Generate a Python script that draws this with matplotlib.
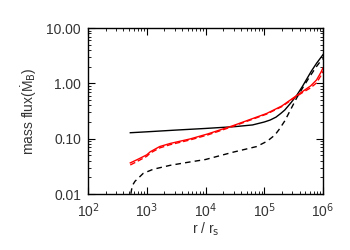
import numpy as np
import matplotlib
matplotlib.use("Agg")
import matplotlib.pyplot as plt

# values: log10(r/r_s) and mass flux
logr_black_solid = [2.72, 3.0, 3.5, 4.0, 4.5, 4.8, 5.0, 5.1, 5.2, 5.28, 5.35, 5.45, 5.55, 5.65, 5.72, 5.8, 5.89, 5.95, 6.0]
m_black_solid = [0.128, 0.133, 0.143, 0.153, 0.165, 0.177, 0.2, 0.217, 0.245, 0.285, 0.33, 0.44, 0.6, 0.88, 1.18, 1.65, 2.3, 2.8, 3.3]

logr_black_dash = [2.73, 2.74, 2.76, 2.8, 2.86, 2.94, 3.11, 3.4, 3.74, 4.0, 4.47, 4.87, 5.05, 5.18, 5.26, 5.35, 5.47, 5.55, 5.66, 5.78, 5.88, 5.95, 6.0]
m_black_dash = [0.0101, 0.0118, 0.0145, 0.017, 0.0195, 0.0236, 0.028, 0.033, 0.038, 0.042, 0.057, 0.072, 0.09, 0.116, 0.15, 0.21, 0.37, 0.54, 0.85, 1.35, 1.95, 2.45, 2.8]

logr_red_solid = [2.72, 2.8, 2.88, 3.0, 3.06, 3.22, 3.4, 3.74, 4.04, 4.47, 5.04, 5.3, 5.55, 5.65, 5.79, 5.89, 5.96, 6.0]
m_red_solid = [0.0365, 0.04, 0.044, 0.051, 0.058, 0.072, 0.082, 0.099, 0.122, 0.172, 0.285, 0.39, 0.6, 0.71, 0.9, 1.15, 1.55, 1.9]

logr_red_dash = [2.72, 2.8, 2.88, 3.0, 3.06, 3.22, 3.4, 3.74, 4.04, 4.47, 5.04, 5.3, 5.55, 5.65, 5.79, 5.89, 5.96, 6.0]
m_red_dash = [0.0335, 0.037, 0.041, 0.048, 0.055, 0.068, 0.078, 0.095, 0.117, 0.167, 0.278, 0.38, 0.58, 0.68, 0.83, 1.02, 1.35, 1.65]

yticks = [0.01, 0.1, 1.0, 10.0]
ytick_labels = ["0.01", "0.10", "1.00", "10.00"]
xticks = [1e2, 1e3, 1e4, 1e5, 1e6]
xtick_labels = [r"10$^{2}$", r"10$^{3}$", r"10$^{4}$", r"10$^{5}$", r"10$^{6}$"]

plt.rcParams['font.family'] = ['Liberation Sans', 'DejaVu Sans']
plt.rcParams['mathtext.fontset'] = 'dejavusans'

fig = plt.figure(figsize=(3.5, 2.5), dpi=100)
ax = fig.add_axes([88/350, 1-194/250, (323-88)/350, (194-28)/250])

def r(logs):
    return 10.0 ** np.asarray(logs)

ax.plot(r(logr_black_solid), m_black_solid, color='black', lw=1.0)
ax.plot(r(logr_black_dash), m_black_dash, color='black', lw=1.0, ls=(0, (4, 3)))
ax.plot(r(logr_red_solid), m_red_solid, color='red', lw=1.0)
ax.plot(r(logr_red_dash), m_red_dash, color='red', lw=1.0, ls=(0, (4, 2)))

ax.set_xscale('log')
ax.set_yscale('log')
ax.set_xlim(1e2, 1e6)
ax.set_ylim(0.01, 10)
ax.set_xticks(xticks)
ax.set_xticklabels(xtick_labels)
ax.set_yticks(yticks)
ax.set_yticklabels(ytick_labels)
ax.tick_params(which='both', direction='in', top=True, right=True, labelsize=10, colors='black', labelcolor='#333333')
ax.tick_params(which='major', length=5, width=0.8, pad=5)
ax.tick_params(which='minor', length=2.5, width=0.6)
for s in ax.spines.values():
    s.set_linewidth(1.0)
ax.set_xlabel(r"r / r$_{\mathrm{s}}$", fontsize=10, color='#333333', labelpad=1)
ax.set_ylabel("mass flux(Ṁ$_{\\mathrm{B}}$)", fontsize=10, color='#333333', labelpad=6)

fig.savefig("out.png", dpi=100)
